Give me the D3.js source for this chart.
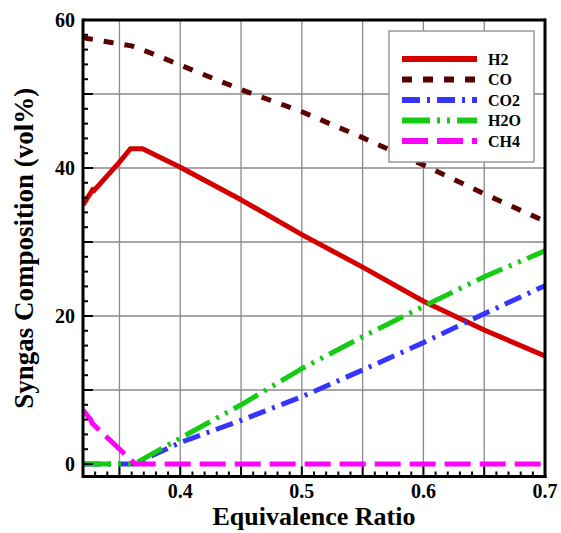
<!DOCTYPE html>
<html>
<head>
<meta charset="utf-8">
<script src="https://cdn.jsdelivr.net/npm/d3@7"></script>
<style>
  html, body { margin: 0; padding: 0; background: #fff; }
  svg { display: block; }
  text { font-family: "Liberation Serif", "Times New Roman", serif; font-weight: bold; fill: #000; }
</style>
</head>
<body>
<svg id="chart" width="561" height="533"></svg>
<script>
// ---- data ----
const seriesNames = ["H2", "CO", "CO2", "H2O", "CH4"];
const h2X  = [0.32, 0.328, 0.3288, 0.35, 0.359, 0.369, 0.4, 0.45, 0.5, 0.55, 0.6, 0.65, 0.7];
const h2Y  = [35.0, 37.1, 36.9, 40.8, 42.6, 42.6, 40.1, 35.7, 31.0, 26.6, 22.0, 18.1, 14.6];
const coX  = [0.32, 0.342, 0.36, 0.378, 0.4, 0.45, 0.5, 0.55, 0.6, 0.65, 0.7];
const coY  = [57.6, 57.0, 56.5, 55.4, 53.9, 50.6, 47.6, 44.1, 40.4, 36.5, 32.8];
const co2X = [0.32, 0.362, 0.4, 0.45, 0.5, 0.55, 0.6, 0.65, 0.7];
const co2Y = [0, 0, 2.9, 5.9, 9.1, 12.7, 16.4, 20.3, 24.1];
const h2oX = [0.32, 0.362, 0.4, 0.45, 0.5, 0.55, 0.6, 0.65, 0.7];
const h2oY = [0, 0, 3.5, 8.0, 12.9, 17.2, 21.3, 25.3, 28.8];
const ch4X = [0.32, 0.3265, 0.3275, 0.363, 0.7];
const ch4Y = [7.3, 5.95, 5.5, 0, 0];
const xTickLabels = [0.4, 0.5, 0.6, 0.7];
const yTickLabels = [0, 20, 40, 60];

// ---- styles ----
const styles = {
  H2:  { color: "#d40000", dash: null },
  CO:  { color: "#5a0000", dash: "10,11" },
  CO2: { color: "#3535ff", dash: "18,7,3,7" },
  H2O: { color: "#14cc14", dash: "28,7,3,7,3,7" },
  CH4: { color: "#ff00ff", dash: "26,9" }
};
const series = [
  { name: "H2",  x: h2X,  y: h2Y },
  { name: "CO",  x: coX,  y: coY },
  { name: "CO2", x: co2X, y: co2Y },
  { name: "H2O", x: h2oX, y: h2oY },
  { name: "CH4", x: ch4X, y: ch4Y }
];

const svg = d3.select("#chart");
const L = 83, R = 545, T = 20, B = 476.5;
const x = d3.scaleLinear().domain([0.32, 0.7]).range([L, R]);
const y = d3.scaleLinear().domain([0, 60]).range([464, T]);

// grid
const g = svg.append("g");
const xGrid = d3.range(0.35, 0.7, 0.05).map(v => +v.toFixed(2)).filter(v => v < 0.7);
const yGrid = d3.range(10, 60, 10);
g.selectAll(".vg").data(xGrid).join("line")
  .attr("x1", d => x(d)).attr("x2", d => x(d)).attr("y1", T).attr("y2", B)
  .attr("stroke", "#8a8a8a").attr("stroke-width", 1.3);
g.selectAll(".hg").data(yGrid).join("line")
  .attr("x1", L).attr("x2", R).attr("y1", d => y(d)).attr("y2", d => y(d))
  .attr("stroke", "#8a8a8a").attr("stroke-width", 1.3);

// clip
svg.append("clipPath").attr("id", "clip").append("rect")
  .attr("x", L).attr("y", T).attr("width", R - L).attr("height", B - T);

const line = d3.line().x(d => x(d[0])).y(d => y(d[1]));
const lines = svg.append("g").attr("clip-path", "url(#clip)");
series.forEach(s => {
  const pts = s.x.map((v, i) => [v, s.y[i]]);
  lines.append("path").datum(pts)
    .attr("d", line)
    .attr("fill", "none")
    .attr("stroke", styles[s.name].color)
    .attr("stroke-width", 5)
    .attr("stroke-dasharray", styles[s.name].dash)
    .attr("stroke-linejoin", "round");
});

// axes ticks
const ax = svg.append("g");
const xMinor = d3.range(33, 70, 1).map(v => v / 100);
ax.selectAll(".xm").data(xMinor).join("line")
  .attr("x1", d => x(d)).attr("x2", d => x(d))
  .attr("y1", B).attr("y2", d => (Math.round(d * 100) % 5 === 0) ? B - 10 : B - 5)
  .attr("stroke", "#000").attr("stroke-width", 2);
const yMinor = d3.range(0, 60, 2);
ax.selectAll(".ym").data(yMinor).join("line")
  .attr("x1", L).attr("x2", d => (d % 10 === 0) ? L + 10 : L + 5)
  .attr("y1", d => y(d)).attr("y2", d => y(d))
  .attr("stroke", "#000").attr("stroke-width", 2);

// frame
svg.append("line").attr("x1", L).attr("x2", L).attr("y1", T - 1.5).attr("y2", B + 1.5)
  .attr("stroke", "#000").attr("stroke-width", 3);
svg.append("line").attr("x1", R).attr("x2", R).attr("y1", T - 1.5).attr("y2", B + 1.5)
  .attr("stroke", "#000").attr("stroke-width", 3);
svg.append("line").attr("x1", L).attr("x2", R).attr("y1", T).attr("y2", T)
  .attr("stroke", "#000").attr("stroke-width", 3);
svg.append("line").attr("x1", L).attr("x2", R + 1.5).attr("y1", B).attr("y2", B)
  .attr("stroke", "#000").attr("stroke-width", 3);

// tick labels
svg.selectAll(".xl").data(xTickLabels).join("text")
  .attr("x", d => x(d)).attr("y", 498)
  .attr("text-anchor", "middle").attr("font-size", 20)
  .text(d => d3.format(".1f")(d));
svg.selectAll(".yl").data(yTickLabels).join("text")
  .attr("x", 75).attr("y", d => y(d) + 7)
  .attr("text-anchor", "end").attr("font-size", 20)
  .text(d => d);

// axis titles
svg.append("text").attr("x", (L + R) / 2).attr("y", 525)
  .attr("text-anchor", "middle").attr("font-size", 26)
  .text("Equivalence Ratio");
svg.append("text").attr("transform", "translate(33," + ((T + B) / 2) + ") rotate(-90)")
  .attr("text-anchor", "middle").attr("font-size", 27)
  .text("Syngas Composition (vol%)");

// legend
const lg = svg.append("g");
lg.append("rect").attr("x", 389).attr("y", 31).attr("width", 145).attr("height", 131)
  .attr("fill", "#fff").attr("stroke", "#8a8a8a").attr("stroke-width", 1.3);
const rowY = d3.scalePoint().domain(seriesNames).range([59, 141]);
seriesNames.forEach(n => {
  lg.append("line").attr("x1", 402).attr("x2", 477)
    .attr("y1", rowY(n)).attr("y2", rowY(n))
    .attr("stroke", styles[n].color).attr("stroke-width", 6)
    .attr("stroke-dasharray", styles[n].dash);
  lg.append("text").attr("x", 488).attr("y", rowY(n) + 5.5)
    .attr("font-size", 16).text(n);
});
</script>
</body>
</html>
